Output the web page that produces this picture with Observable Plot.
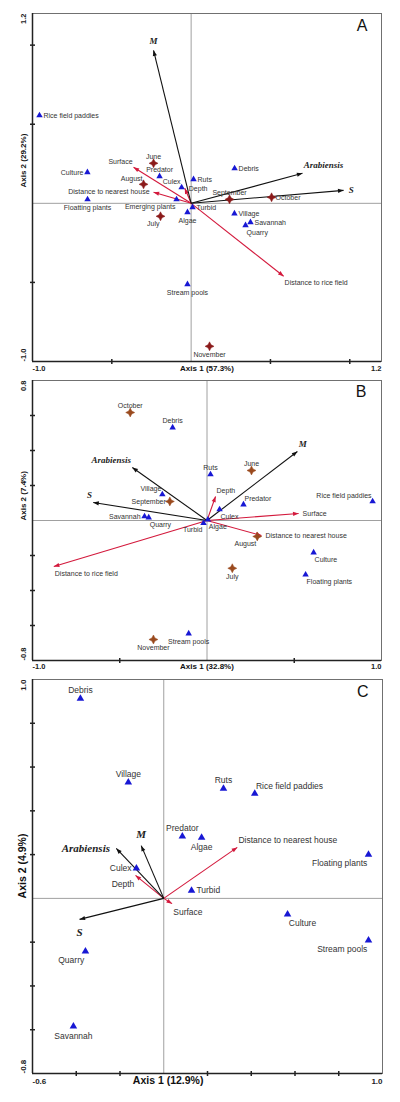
<!DOCTYPE html>
<html><head><meta charset="utf-8">
<script src="https://cdn.jsdelivr.net/npm/d3@7"></script>
<script src="https://cdn.jsdelivr.net/npm/@observablehq/plot@0.6"></script>
<style>
body{margin:0;background:#fff;}
#chart{width:400px;height:1102px;}
#chart svg{display:block;}
</style></head><body><div id="chart"></div>
<script>
// ---------- Panel A ----------
const siteNamesA = ["Rice field paddies","Culture","Floatting plants","Predator","Culex","Ruts","Emerging plants","Algae","Turbid","Stream pools","Village","Savannah","Quarry","Debris"];
const siteAxis1A = [-0.956,-0.654,-0.653,-0.199,-0.06,0.015,-0.092,-0.023,0.009,-0.023,0.273,0.374,0.343,0.274];
const siteAxis2A = [0.556,0.196,0.025,0.171,0.10,0.152,0.025,-0.057,-0.025,-0.512,-0.065,-0.120,-0.139,0.221];
const monthNamesA = ["June","August","July","September","October","November"];
const monthAxis1A = [-0.237,-0.300,-0.193,0.242,0.507,0.116];
const monthAxis2A = [0.253,0.120,-0.082,0.025,0.038,-0.904];
const speciesNamesA = ["M","Arabiensis","S"];
const speciesAxis1A = [-0.237,0.702,0.961];
const speciesAxis2A = [0.967,0.190,0.082];
const envNamesA = ["Surface","Distance to nearest house","Depth","Distance to rice field"];
const envAxis1A = [-0.363,-0.237,-0.04,0.583];
const envAxis2A = [0.228,0.070,0.095,-0.461];
const xTicksA = [-0.5,0.5,1.0], yTicksA = [-0.5,0.5,1.0];
const xDomainA = [-1.0,1.2], yDomainA = [-1.0,1.2];

// ---------- Panel B ----------
const siteNamesB = ["Debris","Village","Savannah","Quarry","Turbid","Algae","Ruts","Predator","Culex","Rice field paddies","Culture","Floating plants","Stream pools"];
const siteAxis1B = [-0.197,-0.256,-0.358,-0.334,-0.02,0.005,0.02,0.209,0.072,0.949,0.611,0.565,-0.105];
const siteAxis2B = [0.531,0.149,0.023,0.017,-0.015,0.005,0.263,0.091,0.063,0.109,-0.183,-0.310,-0.646];
const monthNamesB = ["October","September","June","August","July","November"];
const monthAxis1B = [-0.44,-0.213,0.255,0.288,0.145,-0.307];
const monthAxis2B = [0.617,0.109,0.286,-0.091,-0.273,-0.680];
const speciesNamesB = ["Arabiensis","S","M"];
const speciesAxis1B = [-0.428,-0.652,0.518];
const speciesAxis2B = [0.303,0.103,0.394];
const envNamesB = ["Depth","Surface","Distance to nearest house","Distance to rice field"];
const envAxis1B = [0.049,0.525,0.312,-0.878];
const envAxis2B = [0.137,0.040,-0.086,-0.263];
const xTicksB = [-0.5,0.5], yTicksB = [-0.6,-0.4,-0.2,0.2,0.4,0.6];
const xDomainB = [-1.0,1.0], yDomainB = [-0.8,0.8];

// ---------- Panel C ----------
const siteNamesC = ["Debris","Village","Predator","Algae","Ruts","Rice field paddies","Floating plants","Culex","Turbid","Culture","Stream pools","Quarry","Savannah"];
const siteAxis1C = [-0.381,-0.162,0.085,0.173,0.273,0.416,0.936,-0.125,0.127,0.566,0.936,-0.358,-0.413];
const siteAxis2C = [0.913,0.530,0.283,0.278,0.502,0.479,0.200,0.137,0.036,-0.073,-0.192,-0.242,-0.585];
const speciesNamesC = ["M","Arabiensis","S"];
const speciesAxis1C = [-0.103,-0.217,-0.385];
const speciesAxis2C = [0.241,0.228,-0.096];
const envNamesC = ["Depth","Surface","Distance to nearest house"];
const envAxis1C = [-0.129,0.038,0.336];
const envAxis2C = [0.105,-0.024,0.233];
const xTicksC = [-0.4,-0.2,0.2,0.4,0.6,0.8], yTicksC = [-0.6,-0.4,-0.2,0.2,0.4,0.6,0.8];
const xDomainC = [-0.6,1.0], yDomainC = [-0.8,1.0];

// ---------- label placement (style, not data) ----------
const placeA = {"Rice field paddies":"r","Culture":"l","Floatting plants":"b","Predator":"t","Culex":"tl","Ruts":"r","Emerging plants":"bl","Algae":"b","Turbid":"r","Stream pools":"b","Village":"r","Savannah":"r","Quarry":"br","Debris":"r",
  "June":"t","August":"tl","July":"bl","September":"t","October":"r","November":"b",
  "M":"t","Arabiensis":"tr","S":"r",
  "Surface":"tl","Distance to nearest house":"l","Depth":"r","Distance to rice field":"br"};
const placeB = {"Debris":"t","Village":"tl","Savannah":"l","Quarry":"br","Turbid":"bl","Algae":"br","Ruts":"t","Predator":"tr","Culex":"br","Rice field paddies":"tl","Culture":"br","Floating plants":"br","Stream pools":"b",
  "October":"t","September":"l","June":"t","August":"bl","July":"b","November":"b",
  "Arabiensis":"tl","S":"tl","M":"tr",
  "Depth":"tr","Surface":"r","Distance to nearest house":"r","Distance to rice field":"br"};
const placeC = {"Debris":"t","Village":"t","Predator":"t","Algae":"b","Ruts":"t","Rice field paddies":"tr","Floating plants":"bl","Culex":"l","Turbid":"r","Culture":"br","Stream pools":"bl","Quarry":"bl","Savannah":"b",
  "M":"t","Arabiensis":"l","S":"b","Depth":"bl","Surface":"br","Distance to nearest house":"tr"};

const OFF = {r:[4,0,"start"], l:[-4,0,"end"], t:[0,-7,"middle"], b:[0,8,"middle"], tr:[1,-6,"start"], tl:[-1,-6,"end"], br:[1,7,"start"], bl:[-1,7,"end"]};

const SANS = "Liberation Sans, Arial, Helvetica, sans-serif";
const SERIF = "Liberation Serif, Times New Roman, serif";

const star4 = {draw(ctx, size) {
  const R = Math.sqrt(size / Math.PI), w = R * 0.34;
  ctx.moveTo(0,-R); ctx.lineTo(w,-w); ctx.lineTo(R,0); ctx.lineTo(w,w);
  ctx.lineTo(0,R); ctx.lineTo(-w,w); ctx.lineTo(-R,0); ctx.lineTo(-w,-w); ctx.closePath();
}};
// filled arrow head, tip at the anchor point, pointing to +x (rotated per arrow)
const head = {draw(ctx, size) {
  const R = Math.sqrt(size / Math.PI);
  ctx.moveTo(0,0); ctx.lineTo(-2*R, -0.75*R); ctx.lineTo(-2*R, 0.75*R); ctx.closePath();
}};
const vtick = {draw(ctx, size){ const h = Math.sqrt(size/Math.PI); ctx.moveTo(0,-h); ctx.lineTo(0,h); }};
const htick = {draw(ctx, size){ const h = Math.sqrt(size/Math.PI); ctx.moveTo(-h,0); ctx.lineTo(h,0); }};

const zip = (names, xs, ys) => names.map((n,i) => ({name:n, x:xs[i], y:ys[i]}));

function labels(data, place, k, style) {
  return Object.keys(OFF).map(code => {
    const [dx, dy, ta] = OFF[code];
    return Plot.text(data.filter(d => place[d.name] === code),
      {x:"x", y:"y", text:"name", dx: dx*k, dy: dy*k, textAnchor: ta, ...style});
  });
}

function vectors(data, color, ratio) {
  return [
    Plot.link(data, {x1: 0, y1: 0, x2: "x", y2: "y", stroke: color, strokeWidth: 1.1}),
    Plot.dot(data, {x: "x", y: "y", symbol: head, r: 2.8, fill: color, stroke: "none",
      rotate: d => Math.atan2(-d.y * ratio, d.x) * 180 / Math.PI})
  ];
}

function panel(o) {
  const sites = zip(...o.sites), months = o.months ? zip(...o.months) : [];
  const species = zip(...o.species), envs = zip(...o.envs);
  const fs = o.fs, k = fs/7;
  const fmt = d => d.toFixed(1);
  const W = 400 - 32 - o.mr, H = o.height - o.mt - o.mb;
  const ratio = (H / (o.yDomain[1] - o.yDomain[0])) / (W / (o.xDomain[1] - o.xDomain[0]));
  const tickStyle = {fontSize: o.tickFs, fontWeight:"bold", fontFamily: SANS, fill:"#222"};
  const titleStyle = {fontSize: o.titleFs, fontWeight:"bold", fontFamily: SANS, fill:"#111"};
  const labelStyle = {fontSize: fs, fontFamily: SANS, fill:"#333"};
  const spStyle = {fontSize: o.spFs, fontFamily: SERIF, fontStyle:"italic", fontWeight:"bold", fill:"#222"};
  return Plot.plot({
    width: 400, height: o.height,
    marginTop: o.mt, marginBottom: o.mb, marginLeft: 32, marginRight: o.mr,
    x: {domain: o.xDomain, axis: null},
    y: {domain: o.yDomain, axis: null},
    style: {background:"white", overflow:"visible"},
    marks: [
      Plot.ruleX([0], {stroke:"#a0a0a0", strokeWidth:1}),
      Plot.ruleY([0], {stroke:"#a0a0a0", strokeWidth:1}),
      Plot.frame({stroke:"#707070", strokeWidth:1}),
      Plot.ruleX([o.xDomain[0]], {stroke:"#222", strokeWidth:1.5}),
      Plot.ruleY([o.yDomain[0]], {stroke:"#222", strokeWidth:1.5}),
      Plot.dot(o.xTicks, {x: d=>d, frameAnchor:"bottom", symbol: vtick, r: 2.5, stroke:"#222", fill:"none"}),
      Plot.dot(o.yTicks, {y: d=>d, frameAnchor:"left", symbol: htick, r: 2.5, stroke:"#222", fill:"none"}),
      Plot.text([o.xDomain[0]], {x: d=>d, frameAnchor:"bottom", dy: o.tickDy, textAnchor:"start", text: fmt, ...tickStyle}),
      Plot.text([o.xDomain[1]], {x: d=>d, frameAnchor:"bottom", dy: o.tickDy, textAnchor:"end", text: fmt, ...tickStyle}),
      Plot.text([o.yDomain[1]], {y: d=>d, frameAnchor:"left", dx: -9, rotate: -90, textAnchor:"end", text: fmt, ...tickStyle}),
      Plot.text([o.yDomain[0]], {y: d=>d, frameAnchor:"left", dx: -9, rotate: -90, textAnchor:"start", text: fmt, ...tickStyle}),
      o.titleAtZero
        ? Plot.text([o.xTitleAt], {x: d=>d, frameAnchor:"bottom", dy: o.tickDy, text: () => o.xTitle, ...titleStyle})
        : Plot.text([o.xTitle], {frameAnchor:"bottom", dy: o.tickDy, ...titleStyle}),
      o.titleAtZero
        ? Plot.text([0], {y: d=>d, frameAnchor:"left", dx: -10, rotate: -90, text: () => o.yTitle, ...titleStyle})
        : Plot.text([o.yTitle], {frameAnchor:"left", dx: -9, rotate: -90, ...titleStyle}),
      Plot.text([o.letter], {frameAnchor:"top-right", dx: o.letterDx, dy: o.letterDy, lineAnchor:"top", textAnchor:"end", fontSize: 16, fontFamily: SANS, fill:"#111"}),
      ...vectors(envs, "#d3193c", ratio),
      ...vectors(species, "#111", ratio),
      Plot.dot(sites, {x:"x", y:"y", symbol:"triangle", r: o.triR, fill:"#1818d4"}),
      Plot.dot(months, {x:"x", y:"y", symbol: star4, r: 4.5, fill: o.starColor, stroke: o.starColor, strokeWidth: 0.5}),
      ...labels(sites, o.place, k, labelStyle),
      ...labels(months, o.place, k, labelStyle),
      ...labels(envs, o.place, k, labelStyle),
      ...labels(species, o.place, o.spFs/7, spStyle)
    ]
  });
}

const chart = document.getElementById("chart");
chart.append(panel({
  height: 376, mt: 13, mb: 15, mr: 19,
  xDomain: xDomainA, yDomain: yDomainA, xTicks: xTicksA, yTicks: yTicksA,
  sites: [siteNamesA, siteAxis1A, siteAxis2A], months: [monthNamesA, monthAxis1A, monthAxis2A],
  species: [speciesNamesA, speciesAxis1A, speciesAxis2A], envs: [envNamesA, envAxis1A, envAxis2A],
  place: placeA, fs: 7, spFs: 9, tickFs: 7.5, titleFs: 8, tickDy: 9, triR: 2.4,
  starColor: "#8b1a1a", letter: "A", letterDx: -14, letterDy: 6,
  xTitle: "Axis 1 (57.3%)", yTitle: "Axis 2 (29.2%)"
}));
chart.append(panel({
  height: 300, mt: 4, mb: 16, mr: 19,
  xDomain: xDomainB, yDomain: yDomainB, xTicks: xTicksB, yTicks: yTicksB,
  sites: [siteNamesB, siteAxis1B, siteAxis2B], months: [monthNamesB, monthAxis1B, monthAxis2B],
  species: [speciesNamesB, speciesAxis1B, speciesAxis2B], envs: [envNamesB, envAxis1B, envAxis2B],
  place: placeB, fs: 7, spFs: 9, tickFs: 7.5, titleFs: 8, tickDy: 8.5, triR: 2.4,
  starColor: "#9a4a1e", letter: "B", letterDx: -15, letterDy: 5,
  xTitle: "Axis 1 (32.8%)", yTitle: "Axis 2 (7.4%)"
}));
chart.append(panel({
  height: 426, mt: 3, mb: 29, mr: 18,
  xDomain: xDomainC, yDomain: yDomainC, xTicks: xTicksC, yTicks: yTicksC,
  sites: [siteNamesC, siteAxis1C, siteAxis2C], months: null,
  species: [speciesNamesC, speciesAxis1C, speciesAxis2C], envs: [envNamesC, envAxis1C, envAxis2C],
  place: placeC, fs: 8.5, spFs: 11, tickFs: 8, titleFs: 10.5, tickDy: 10, triR: 2.8,
  starColor: "#8b1a1a", letter: "C", letterDx: -14, letterDy: 6,
  titleAtZero: true, xTitleAt: 0.02,
  xTitle: "Axis 1 (12.9%)", yTitle: "Axis 2 (4.9%)"
}));
</script></body></html>
